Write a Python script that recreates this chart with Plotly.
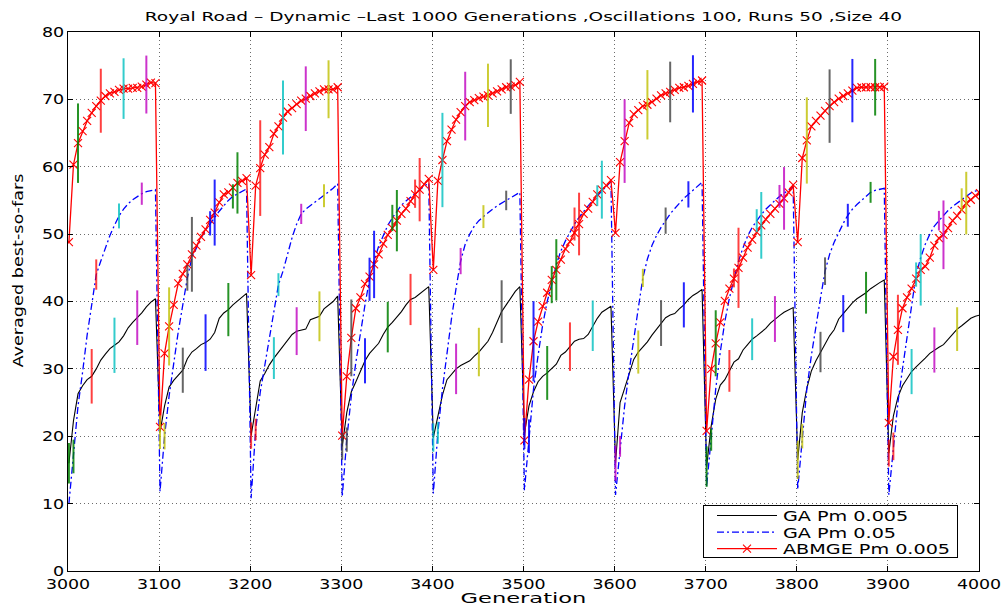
import numpy as np
import plotly.graph_objects as go

# Generation grid: one sample every 5 generations, 10 oscillation periods of 100
GEN_START = 3001
GEN_STEP = 5

# GA, Pm 0.005 (averaged best-so-far), 20 samples per period
ga_005 = [
    16.0, 22.3, 26.3, 27.5, 28.4, 28.9, 30.0, 31.3, 32.2, 33.0, 33.5, 34.0, 34.9, 36.1, 36.9, 37.6, 38.3, 39.2, 39.9, 40.4,
    20.6, 24.5, 27.3, 28.3, 29.0, 29.8, 31.5, 32.5, 33.0, 33.6, 33.9, 34.4, 35.4, 37.5, 38.3, 38.8, 39.5, 40.1, 40.7, 41.2,
    20.1, 24.5, 28.2, 29.3, 30.6, 31.6, 32.5, 33.3, 34.2, 35.1, 35.6, 35.8, 35.9, 37.3, 37.6, 37.8, 38.9, 39.4, 40.0, 40.8,
    18.5, 23.5, 26.6, 28.1, 29.7, 31.2, 32.3, 33.1, 33.8, 35.1, 36.2, 36.9, 37.7, 38.5, 39.5, 40.3, 40.6, 41.1, 41.7, 42.2,
    19.8, 23.2, 26.1, 28.4, 29.2, 30.0, 30.5, 30.8, 31.2, 31.9, 32.5, 33.3, 34.1, 35.4, 36.9, 38.5, 39.5, 40.5, 41.5, 42.2,
    20.4, 24.5, 26.6, 28.1, 28.9, 29.4, 30.0, 30.7, 32.0, 32.5, 33.3, 34.1, 34.4, 34.5, 35.1, 36.4, 37.5, 38.4, 38.9, 39.3,
    16.0, 25.0, 27.1, 29.2, 31.4, 32.5, 33.3, 34.0, 35.0, 35.9, 36.8, 37.6, 38.0, 38.2, 38.9, 39.5, 40.3, 40.9, 41.3, 41.8,
    15.5, 21.5, 25.5, 27.6, 28.4, 29.7, 31.0, 31.5, 32.8, 33.6, 34.4, 34.9, 35.4, 36.0, 36.8, 37.4, 37.9, 38.4, 38.8, 39.1,
    16.5, 23.5, 27.1, 29.7, 31.2, 32.5, 33.8, 34.9, 35.8, 37.4, 38.2, 39.0, 39.8, 40.4, 40.8, 41.3, 41.9, 42.4, 42.8, 43.2,
    17.5, 23.0, 25.8, 27.5, 28.6, 29.6, 30.3, 30.9, 31.6, 32.3, 32.8, 33.2, 33.6, 34.4, 35.1, 35.9, 36.4, 37.0, 37.5, 37.8,
    38.0,
]

# GA, Pm 0.05
ga_05 = [
    10.0, 17.0, 24.5, 29.5, 35.0, 39.5, 44.0, 46.0, 48.0, 49.8, 51.3, 52.7, 53.7, 54.5, 55.1, 55.6, 56.0, 56.3, 56.5, 56.6,
    11.8, 20.0, 26.0, 31.0, 35.5, 39.5, 43.5, 46.5, 48.0, 49.4, 50.6, 51.6, 52.5, 53.4, 54.2, 55.0, 55.6, 56.0, 56.4, 56.7,
    10.8, 21.0, 26.5, 30.5, 34.5, 38.0, 42.5, 44.5, 47.0, 49.5, 51.5, 53.0, 53.7, 54.2, 54.7, 55.2, 55.7, 56.2, 56.8, 57.5,
    11.0, 19.5, 26.0, 31.0, 35.5, 39.5, 43.3, 46.0, 48.2, 49.9, 51.3, 52.4, 53.4, 54.3, 54.9, 55.5, 56.0, 56.6, 57.1, 57.6,
    11.5, 20.5, 27.0, 32.5, 37.5, 42.0, 46.0, 48.5, 50.0, 51.2, 52.0, 52.6, 53.2, 53.7, 54.2, 54.6, 55.0, 55.5, 55.9, 56.2,
    12.0, 20.0, 27.0, 32.0, 36.5, 40.0, 42.5, 45.5, 47.5, 49.0, 50.3, 51.5, 52.5, 53.4, 54.2, 55.0, 55.7, 56.4, 57.1, 57.8,
    11.3, 18.5, 24.5, 29.7, 34.7, 39.0, 43.5, 46.3, 48.3, 49.8, 51.0, 52.0, 53.0, 53.8, 54.6, 55.3, 55.9, 56.5, 57.1, 57.7,
    12.5, 19.5, 27.0, 32.5, 37.0, 40.5, 43.5, 46.0, 48.0, 49.7, 51.0, 52.0, 52.9, 53.7, 54.4, 55.0, 55.6, 56.1, 56.6, 57.0,
    12.1, 20.0, 27.0, 32.0, 36.5, 40.5, 44.5, 47.0, 48.8, 50.3, 51.6, 52.8, 53.7, 54.4, 55.0, 55.6, 56.2, 56.5, 56.7, 56.8,
    11.3, 18.5, 25.0, 30.0, 34.5, 39.0, 44.0, 46.5, 48.5, 50.0, 51.2, 52.0, 52.8, 53.5, 54.1, 54.6, 55.1, 55.6, 56.1, 56.4,
    56.6,
]

# ABMGE, Pm 0.005
abmge_005 = [
    48.8, 60.3, 63.5, 65.3, 66.8, 68.0, 69.0, 69.8, 70.5, 70.9, 71.1, 71.4, 71.6, 71.6, 71.7, 71.7, 71.9, 72.2, 72.5, 72.4,
    21.4, 32.3, 36.3, 39.5, 42.7, 44.1, 45.5, 47.0, 48.3, 49.6, 50.7, 52.1, 53.2, 54.7, 55.9, 56.2, 56.9, 57.6, 57.9, 58.3,
    43.9, 57.2, 59.8, 61.8, 62.9, 64.9, 66.0, 67.3, 68.2, 68.7, 69.3, 69.8, 70.1, 70.5, 70.9, 71.2, 71.5, 71.5, 71.5, 71.8,
    20.1, 28.9, 34.6, 39.0, 40.6, 42.6, 43.7, 45.5, 47.0, 48.6, 49.9, 50.9, 52.0, 53.0, 53.8, 54.9, 55.9, 56.6, 57.4, 58.2,
    44.7, 57.9, 61.0, 63.8, 65.5, 67.0, 68.1, 69.0, 69.6, 69.9, 70.2, 70.4, 70.6, 70.9, 71.2, 71.5, 71.8, 71.9, 72.1, 72.6,
    19.4, 28.4, 34.1, 37.0, 39.3, 41.3, 43.2, 44.7, 46.2, 47.8, 48.9, 50.2, 51.5, 53.0, 53.8, 54.8, 55.9, 56.6, 57.2, 58.0,
    50.2, 60.7, 63.8, 66.5, 67.8, 68.4, 69.0, 69.2, 69.6, 70.1, 70.6, 70.9, 71.1, 71.4, 71.7, 71.8, 72.0, 72.3, 72.6, 72.8,
    20.8, 30.0, 33.8, 36.9, 40.1, 41.9, 43.4, 45.0, 46.5, 48.0, 49.2, 50.3, 51.3, 52.2, 53.0, 53.8, 54.5, 55.3, 56.2, 57.3,
    48.8, 61.3, 63.9, 66.0, 66.8, 67.6, 68.3, 69.0, 69.6, 70.1, 70.5, 70.9, 71.3, 71.7, 71.8, 71.8, 71.8, 71.8, 71.8, 71.9,
    22.0, 31.8, 35.8, 39.0, 40.6, 41.9, 43.4, 44.7, 45.2, 46.5, 48.3, 49.4, 49.9, 50.9, 52.0, 52.7, 53.6, 54.6, 55.1, 55.7,
    56.1,
]

# Half-lengths of the error bars, one every 25 generations per series
err_ga_005 = [3.0, 4.05, 4.1, 4.05, 2.5, 3.35, 4.2, 3.95, 1.95, 3.1, 3.55, 3.7, 2.0, 3.35, 3.75, 3.8, 2.1, 3.75, 3.6, 4.65,
              2.3, 4.0, 3.6, 3.75, 2.6, 3.2, 3.4, 3.35, 3.0, 3.1, 3.1, 3.4, 2.85, 3.0, 2.75, 3.1, 2.0, 3.35, 3.35, 3.25]
err_ga_05 = [2.5, 2.25, 1.85, 1.65, 1.95, 1.9, 1.8, 1.8, 1.6, 1.7, 1.5, 1.7, 1.8, 3.2, 1.95, 2.1, 1.6, 1.95, 1.7, 1.45,
             2.5, 2.75, 2.45, 1.55, 1.55, 1.35, 1.95, 1.95, 1.65, 1.4, 1.7, 1.7, 1.8, 2.05, 1.7, 1.55, 2.05, 1.8, 1.45, 1.7]
err_abmge_005 = [5.9, 4.75, 4.5, 4.3, 5.8, 5.55, 4.9, 4.55, 7.1, 5.5, 4.8, 4.3, 5.7, 5.0, 4.55, 4.7, 7.0, 5.1, 4.7, 4.05,
                 5.95, 4.55, 4.65, 4.3, 6.2, 5.15, 4.5, 4.25, 4.9, 5.95, 4.95, 4.65, 6.4, 5.45, 4.7, 4.2, 5.2, 5.3, 5.1, 4.65]

series_names = ["GA Pm 0.005", "GA Pm 0.05", "ABMGE Pm 0.005"]
x_ticks = [3000, 3100, 3200, 3300, 3400, 3500, 3600, 3700, 3800, 3900, 4000]
y_ticks = [0, 10, 20, 30, 40, 50, 60, 70, 80]

# MATLAB-like colour order used for the error bars
bar_colors = ["rgba(0,0,255,0.85)", "rgba(0,128,0,0.85)", "rgba(255,0,0,0.75)", "rgba(0,191,191,0.8)",
              "rgba(191,0,191,0.8)", "rgba(191,191,0,0.8)", "rgba(64,64,64,0.8)"]

FONT = "DejaVu Sans"
gens = GEN_START + GEN_STEP * np.arange(len(abmge_005))

fig = go.Figure()

fig.add_trace(go.Scatter(x=gens, y=ga_005, mode="lines", name=series_names[0],
                         line=dict(color="black", width=1.1)))
fig.add_trace(go.Scatter(x=gens, y=ga_05, mode="lines", name=series_names[1],
                         line=dict(color="blue", width=1.3, dash="7px,3px,2px,3px")))
fig.add_trace(go.Scatter(x=gens, y=abmge_005, mode="lines+markers", name=series_names[2],
                         line=dict(color="red", width=1.3),
                         marker=dict(symbol="x-thin", size=8, color="red",
                                     line=dict(color="red", width=1.1))))

# Error bars: every 25 generations, series offset by 5 generations each,
# colours cycling through the colour order
for s_idx, (vals, errs) in enumerate([(ga_005, err_ga_005), (ga_05, err_ga_05), (abmge_005, err_abmge_005)]):
    idx = np.array([5 * k + s_idx for k in range(len(errs))])
    col_idx = np.array([(k + 1) % 7 for k in range(len(errs))])
    vals_arr = np.asarray(vals)
    errs_arr = np.asarray(errs)
    for c in range(7):
        sel = col_idx == c
        if not sel.any():
            continue
        fig.add_trace(go.Scatter(
            x=gens[idx[sel]], y=vals_arr[idx[sel]], mode="markers",
            marker=dict(size=1, opacity=0), showlegend=False, hoverinfo="skip",
            error_y=dict(type="data", array=errs_arr[sel], visible=True,
                         color=bar_colors[c], thickness=2, width=0)))

axis_common = dict(
    showline=True, linecolor="black", linewidth=1, mirror="ticks",
    ticks="inside", ticklen=5, tickcolor="black", tickwidth=1,
    showgrid=True, gridcolor="rgba(70,70,70,0.8)", griddash="1px,3px", gridwidth=1,
    zeroline=False,
)

fig.update_xaxes(range=[3000, 4000], tickvals=x_ticks, ticklabelstandoff=1,
                 tickfont=dict(family=FONT, size=13, color="black"), **axis_common)
fig.update_yaxes(range=[0, 80], tickvals=y_ticks,
                 tickfont=dict(family=FONT, size=14, color="black"), **axis_common)

fig.update_layout(
    width=1008, height=605, autosize=False,
    margin=dict(l=68, r=25, t=32, b=34, pad=0),
    plot_bgcolor="white", paper_bgcolor="white",
    font=dict(family=FONT, color="black"),
    title=dict(text="Royal Road \u2013 Dynamic \u2013Last 1000 Generations ,Oscillations 100, Runs 50 ,Size 40",
               x=0.5, xref="paper", y=1 - 17 / 605, yref="container", yanchor="middle",
               font=dict(family=FONT, size=13, color="black")),
    legend=dict(x=0.694, y=0.025, xanchor="left", yanchor="bottom",
                bgcolor="white", bordercolor="black", borderwidth=1,
                font=dict(family=FONT, size=14, color="black"), tracegroupgap=0),
    showlegend=True,
)

fig.add_annotation(text="Generation", xref="paper", yref="paper", x=0.5, y=-0.0519,
                   xanchor="center", yanchor="middle", showarrow=False,
                   font=dict(family=FONT, size=12, color="black"))
fig.add_annotation(text="Averaged best-so-fars", xref="paper", yref="paper", x=-0.0546, y=0.558,
                   xanchor="center", yanchor="middle", showarrow=False, textangle=-90,
                   font=dict(family=FONT, size=14, color="black"))

# Text in this figure is set in a horizontally widened style; the legend uses
# tighter rows and longer line samples than the defaults.
post_js = """
var gd = document.getElementById('{plot_id}');
function stretchAbout(el, sx, sy, cx, cy) {
  var prev = el.getAttribute('transform') || '';
  el.setAttribute('transform', prev + ' translate(' + cx + ',' + cy + ') scale(' + sx + ',' + sy + ') translate(' + (-cx) + ',' + (-cy) + ')');
}
function stretchCenter(el, sx, sy) {
  var b = el.getBBox();
  stretchAbout(el, sx, sy, b.x + b.width / 2, b.y + b.height / 2);
}
var title = gd.querySelector('.gtitle');
if (title) { var tb = title.getBBox(); if (tb.width > 0) { stretchCenter(title, 758 / tb.width, 0.95); } }
gd.querySelectorAll('.xtick text').forEach(function (t) { stretchCenter(t, 1.34, 1.05); });
gd.querySelectorAll('.ytick text').forEach(function (t) {
  var b = t.getBBox(); stretchAbout(t, 1.25, 1, b.x + b.width, b.y + b.height / 2);
});
gd.querySelectorAll('.annotation-text').forEach(function (t) {
  var s = t.textContent;
  var b = t.getBBox();
  if (s === 'Generation') { if (b.width > 0) { stretchCenter(t, 126 / b.width, 1.1); } }
  else if (s.indexOf('Averaged') === 0) { if (b.width > 0) { stretchCenter(t, 194 / b.width, 1.05); } }
});
var L = gd.querySelector('g.legend');
if (L) {
  var LX = 703, LY = 505, LW = 255, LH = 53, ROW0 = 10.5, ROWH = 16.6;
  var LINE_X0 = 14, LINE_LEN = 60, TEXT_X = 80, LEG_SX = 1.37;
  L.setAttribute('transform', 'translate(' + LX + ',' + LY + ')');
  var bg = L.querySelector('rect.bg');
  if (bg) { bg.setAttribute('width', LW - 1); bg.setAttribute('height', LH - 1); }
  var sb = L.querySelector('g.scrollbox');
  if (sb) { sb.removeAttribute('clip-path'); sb.setAttribute('transform', 'translate(0,0)'); }
  L.querySelectorAll('g.traces').forEach(function (it, i) {
    it.setAttribute('transform', 'translate(0,' + (ROW0 + ROWH * i) + ')');
    it.querySelectorAll('g.legendlines path').forEach(function (p) {
      p.setAttribute('d', 'M' + LINE_X0 + ',0h' + LINE_LEN);
    });
    it.querySelectorAll('g.legendpoints path.scatterpts').forEach(function (p) {
      p.setAttribute('transform', 'translate(' + (LINE_X0 + LINE_LEN / 2) + ',0)');
    });
    var t = it.querySelector('text.legendtext');
    if (t) { t.setAttribute('x', TEXT_X); stretchAbout(t, LEG_SX, 1, TEXT_X, 0); }
  });
}
"""

fig.write_html("out.html", post_script=post_js)
